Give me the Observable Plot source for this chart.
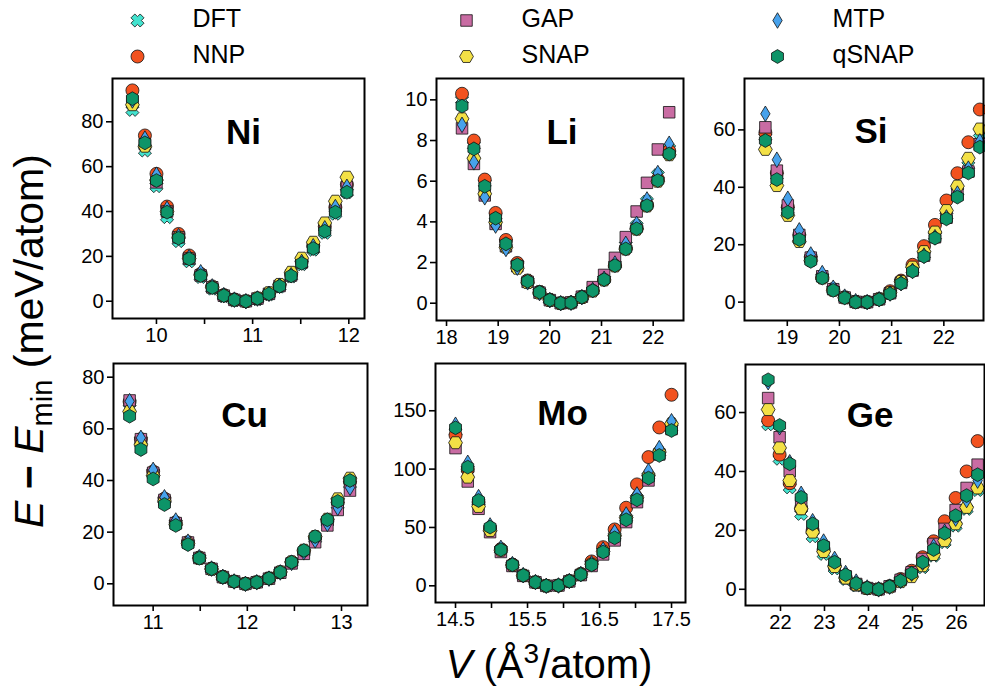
<!DOCTYPE html>
<html><head><meta charset="utf-8">
<script src="https://cdn.jsdelivr.net/npm/d3@7"></script>
<script src="https://cdn.jsdelivr.net/npm/@observablehq/plot@0.6"></script>
<style>
html,body{margin:0;padding:0;background:#fff;}
#fig{position:relative;width:985px;height:689px;overflow:hidden;background:#fff;font-family:"Liberation Sans",Arial,Helvetica,sans-serif;}
#fig svg{position:absolute;overflow:visible;}
</style></head><body><div id="fig"></div>
<script>
// ---------------- data ----------------
const series = ["DFT", "NNP", "GAP", "SNAP", "MTP", "qSNAP"];
const colors = ["#43e3cf", "#f2521f", "#c96ca3", "#f3e046", "#47a2ec", "#0d9468"];

// Ni
const Ni_V = [9.75, 9.88, 10.00, 10.11, 10.23, 10.34, 10.46, 10.58, 10.70, 10.81, 10.93, 11.05, 11.17, 11.28, 11.40, 11.51, 11.63, 11.75, 11.86, 11.98];
const Ni_DFT = [85.3, 67.2, 51.3, 37.5, 26.8, 17.8, 10.8, 5.6, 2.2, 0.4, 0, 0.9, 3.1, 6.5, 11.0, 16.5, 23.0, 30.5, 39.0, 48.5];
const Ni_NNP = [94.0, 73.9, 56.8, 42.2, 30.0, 20.4, 12.2, 6.6, 2.8, 0.8, 0, 1.2, 3.4, 7.0, 11.8, 17.8, 24.8, 33.3, 41.9, 52.0];
const Ni_GAP = [89.0, 70.0, 53.0, 40.0, 28.5, 19.0, 11.5, 6.2, 2.5, 0.6, 0, 1.2, 3.3, 6.8, 11.5, 17.3, 24.2, 32.3, 41.0, 51.0];
const Ni_SNAP = [87.6, 69.1, 54.0, 40.0, 28.5, 19.0, 11.6, 6.2, 2.5, 0.6, 0, 1.4, 3.8, 7.5, 12.9, 19.2, 26.3, 34.9, 44.6, 55.3];
const Ni_MTP = [89.5, 72.5, 56.4, 41.2, 29.0, 19.6, 12.9, 6.6, 2.7, 0.7, 0, 1.2, 3.3, 6.9, 11.6, 17.5, 24.5, 32.5, 42.0, 51.0];
const Ni_qSNAP = [90.3, 70.6, 53.8, 39.7, 28.1, 18.9, 11.4, 6.1, 2.5, 0.6, 0, 1.3, 3.3, 6.7, 11.3, 16.9, 23.5, 31.2, 39.7, 48.6];

// Li
const Li_V = [18.30, 18.53, 18.74, 18.95, 19.15, 19.37, 19.57, 19.80, 20.00, 20.21, 20.41, 20.62, 20.83, 21.05, 21.26, 21.47, 21.68, 21.88, 22.09, 22.31];
const Li_DFT = [10.0, 7.75, 5.9, 4.3, 3.0, 1.92, 1.1, 0.55, 0.16, 0, 0.02, 0.3, 0.62, 1.18, 1.9, 2.85, 3.8, 5.0, 6.3, 7.6];
const Li_NNP = [10.3, 8.0, 6.08, 4.44, 3.11, 1.98, 1.12, 0.56, 0.17, 0, 0.03, 0.3, 0.63, 1.17, 1.87, 2.72, 3.72, 4.85, 6.1, 7.5];
const Li_GAP = [8.6, 6.85, 5.3, 3.9, 2.8, 1.82, 1.05, 0.52, 0.15, 0, 0.04, 0.32, 0.79, 1.39, 2.23, 3.25, 4.51, 5.92, 7.56, 9.39];
const Li_SNAP = [9.07, 7.13, 5.38, 3.98, 2.75, 1.72, 1.02, 0.5, 0.14, 0, 0.02, 0.28, 0.6, 1.14, 1.83, 2.66, 3.64, 4.78, 6.0, 7.3];
const Li_MTP = [8.77, 6.93, 5.21, 3.82, 2.67, 1.75, 1.03, 0.5, 0.15, 0, 0.02, 0.3, 0.65, 1.2, 1.95, 2.92, 3.9, 5.1, 6.4, 7.84];
const Li_qSNAP = [9.69, 7.59, 5.75, 4.18, 2.92, 1.89, 1.08, 0.54, 0.16, 0, 0.02, 0.3, 0.62, 1.16, 1.85, 2.67, 3.66, 4.8, 6.03, 7.34];

// Si
const Si_V = [18.58, 18.80, 19.01, 19.23, 19.45, 19.67, 19.88, 20.10, 20.31, 20.53, 20.76, 20.97, 21.18, 21.40, 21.62, 21.83, 22.05, 22.26, 22.47, 22.69];
const Si_DFT = [57.5, 44.0, 32.0, 22.5, 15.0, 8.8, 4.4, 1.6, 0.1, 0, 1.0, 3.1, 6.9, 11.2, 16.5, 23.0, 30.0, 38.5, 47.6, 57.1];
const Si_NNP = [59.0, 45.0, 33.1, 23.4, 15.7, 8.8, 4.5, 1.7, 0.1, 0, 1.1, 3.8, 7.5, 13.0, 19.5, 26.9, 35.4, 44.9, 55.7, 67.1];
const Si_GAP = [60.9, 45.8, 33.7, 23.4, 15.5, 9.0, 4.5, 1.6, 0.1, 0, 1.0, 3.1, 6.7, 11.0, 16.2, 22.6, 29.4, 37.5, 45.5, 55.0];
const Si_SNAP = [53.2, 40.6, 30.2, 21.1, 14.5, 8.4, 4.1, 1.5, 0, 0, 1.0, 3.3, 7.2, 12.2, 17.6, 24.4, 31.9, 40.4, 50.1, 60.3];
const Si_MTP = [65.6, 49.6, 36.0, 25.0, 16.6, 10.1, 5.0, 1.9, 0.3, 0, 1.0, 3.0, 6.6, 10.9, 16.2, 22.6, 29.5, 37.8, 46.5, 56.0];
const Si_qSNAP = [56.3, 42.7, 31.3, 21.8, 14.2, 8.4, 4.1, 1.5, 0, 0, 0.9, 2.9, 6.5, 10.7, 15.9, 22.3, 29.0, 36.6, 45.0, 54.0];

// Cu
const Cu_V = [10.75, 10.87, 11.00, 11.12, 11.24, 11.37, 11.49, 11.62, 11.74, 11.86, 11.98, 12.10, 12.23, 12.35, 12.47, 12.60, 12.72, 12.85, 12.96, 13.09];
const Cu_DFT = [70.0, 55.5, 43.0, 32.5, 23.5, 15.8, 9.9, 5.7, 2.6, 0.9, 0, 0.6, 2.1, 4.4, 8.2, 12.2, 17.3, 23.8, 30.5, 38.5];
const Cu_NNP = [70.5, 56.0, 43.5, 33.0, 23.8, 16.1, 10.2, 5.9, 2.7, 0.9, 0, 0.6, 2.1, 4.5, 8.3, 12.5, 17.8, 24.3, 31.5, 39.5];
const Cu_GAP = [71.0, 56.0, 43.0, 32.5, 23.5, 16.0, 10.0, 5.8, 2.6, 0.9, 0, 0.6, 2.0, 4.3, 7.9, 11.6, 16.1, 22.6, 28.6, 36.1];
const Cu_SNAP = [66.7, 53.8, 41.9, 32.0, 23.0, 15.6, 9.9, 5.7, 2.6, 0.9, 0, 0.6, 2.1, 4.6, 8.5, 13.0, 18.3, 25.0, 32.9, 40.9];
const Cu_MTP = [70.7, 56.5, 44.1, 33.5, 24.5, 16.3, 10.3, 5.9, 2.7, 0.9, 0, 0.6, 2.0, 4.4, 8.1, 12.2, 16.8, 23.2, 29.4, 37.2];
const Cu_qSNAP = [64.9, 52.0, 40.6, 30.7, 22.6, 15.2, 9.9, 5.8, 2.6, 0.9, 0, 0.6, 2.1, 4.5, 8.4, 12.9, 18.3, 24.8, 31.9, 40.0];

// Mo
const Mo_V = [14.50, 14.67, 14.82, 14.98, 15.13, 15.29, 15.44, 15.61, 15.76, 15.93, 16.08, 16.24, 16.39, 16.55, 16.71, 16.87, 17.02, 17.18, 17.33, 17.50];
const Mo_DFT = [132, 100, 72, 49, 31, 18, 8.9, 3.1, 0, 0.3, 4.0, 9.7, 18.5, 29.5, 42.5, 58, 75, 94, 114, 135];
const Mo_NNP = [129.1, 99.7, 71.7, 49.4, 31.5, 18.2, 8.9, 3.1, 0, 0.3, 4.2, 10.3, 20.9, 33.1, 48.3, 66.9, 86.9, 110.3, 135.7, 163.7];
const Mo_GAP = [118, 89.4, 66, 46, 29, 17, 8.5, 3.0, 0, 0.3, 3.8, 9.2, 17.0, 26.9, 38.9, 54.6, 71.7, 90.3, 112.6, 134.3];
const Mo_SNAP = [122.6, 93.1, 68, 47.4, 30.5, 17.7, 8.8, 3.0, 0, 0.3, 4.0, 9.8, 18.5, 29.5, 43, 58.5, 75.5, 94.6, 114.6, 138.9];
const Mo_MTP = [138, 105.4, 76, 51.7, 32.5, 18.6, 9.2, 3.2, 0, 0.3, 4.1, 10.1, 19.2, 31, 46, 61.1, 78.3, 98.3, 118, 141];
const Mo_qSNAP = [135.4, 101.7, 73.1, 50.3, 30.9, 18, 8.9, 3.1, 0, 0.3, 4.0, 9.7, 18.0, 28.9, 41.1, 56.6, 73.7, 92.3, 111.7, 133.1];

// Ge
const Ge_V = [21.72, 21.98, 22.21, 22.47, 22.73, 22.98, 23.23, 23.48, 23.72, 23.97, 24.23, 24.48, 24.73, 24.98, 25.23, 25.48, 25.73, 25.98, 26.23, 26.48];
const Ge_DFT = [56.0, 44.3, 34.6, 25.6, 18.0, 12.0, 7.1, 3.5, 1.3, 0.3, 0, 0.9, 3.0, 4.8, 7.5, 11.4, 16.0, 21.6, 27.3, 33.7];
const Ge_NNP = [57.3, 45.7, 36.0, 27.5, 20.0, 13.5, 8.0, 4.0, 1.6, 0.4, 0, 1.1, 3.5, 6.3, 10.9, 16.3, 23.1, 31.0, 40.0, 50.3];
const Ge_GAP = [64.9, 51.6, 40.1, 29.5, 21.1, 14.3, 8.5, 4.4, 1.8, 0.4, 0, 1.0, 3.2, 5.8, 10.3, 15.4, 20.5, 26.9, 34.4, 42.3];
const Ge_SNAP = [61.0, 48.0, 36.9, 27.3, 19.4, 12.8, 7.7, 3.8, 1.5, 0.3, 0, 0.8, 2.6, 4.3, 8.0, 11.8, 16.5, 22.2, 27.8, 34.4];
const Ge_MTP = [70.3, 55.0, 43.1, 32.4, 23.1, 16.2, 10.3, 5.5, 2.6, 0.6, 0, 0.9, 2.9, 5.3, 9.0, 14.5, 19.5, 24.0, 30.3, 36.9];
const Ge_qSNAP = [71.1, 55.6, 42.6, 31.2, 22.2, 14.8, 9.2, 4.9, 2.0, 0.45, 0, 0.9, 2.9, 5.4, 9.2, 13.5, 19.0, 25.0, 31.8, 38.9];

// tick values and labels
const Ni_xticks = [10, 10.5, 11, 11.5, 12], Ni_xlabels = [10, 11, 12], Ni_yticks = [0, 20, 40, 60, 80];
const Li_xticks = [18, 19, 20, 21, 22], Li_xlabels = [18, 19, 20, 21, 22], Li_yticks = [0, 2, 4, 6, 8, 10];
const Si_xticks = [19, 20, 21, 22], Si_xlabels = [19, 20, 21, 22], Si_yticks = [0, 20, 40, 60];
const Cu_xticks = [11, 11.5, 12, 12.5, 13], Cu_xlabels = [11, 12, 13], Cu_yticks = [0, 20, 40, 60, 80];
const Mo_xticks = [14.5, 15, 15.5, 16, 16.5, 17, 17.5], Mo_xlabels = [14.5, 15.5, 16.5, 17.5], Mo_yticks = [0, 50, 100, 150];
const Ge_xticks = [22, 23, 24, 25, 26], Ge_xlabels = [22, 23, 24, 25, 26], Ge_yticks = [0, 20, 40, 60];

// ---------------- symbols ----------------
const symX = {draw(ctx, size) {
  const r = Math.sqrt(size / Math.PI), a = r * 1.0, t = r * 0.42;
  const pts = [[t,a],[t,t],[a,t],[a,-t],[t,-t],[t,-a],[-t,-a],[-t,-t],[-a,-t],[-a,t],[-t,t],[-t,a]];
  const c = Math.SQRT1_2;
  pts.forEach(([x,y], i) => { const X = (x - y) * c, Y = (x + y) * c; i ? ctx.lineTo(X, Y) : ctx.moveTo(X, Y); });
  ctx.closePath();
}};
const symThinDiamond = {draw(ctx, size) {
  const r = Math.sqrt(size / Math.PI), h = r * 1.2, w = r * 0.72;
  ctx.moveTo(0, -h); ctx.lineTo(w, 0); ctx.lineTo(0, h); ctx.lineTo(-w, 0); ctx.closePath();
}};
function hexSym(offset) { return {draw(ctx, size) {
  const R = Math.sqrt(size / Math.PI) * 1.06;
  for (let k = 0; k < 6; k++) { const a = offset + k * Math.PI / 3, x = R * Math.cos(a), y = R * Math.sin(a); k ? ctx.lineTo(x, y) : ctx.moveTo(x, y); }
  ctx.closePath();
}}; }
const symbols = [symX, "circle", "square", hexSym(0), symThinDiamond, hexSym(Math.PI / 2)];

// ---------------- panels ----------------
const panels = [
  {name: "Ni", V: Ni_V, vals: [Ni_DFT, Ni_NNP, Ni_GAP, Ni_SNAP, Ni_MTP, Ni_qSNAP], xt: Ni_xticks, xl: Ni_xlabels, yt: Ni_yticks,
   frame: [112, 364, 78, 318], xd: [9.543, 12.163], yd: [-7.7, 99.3], tdx: 5, tdy: 54},
  {name: "Li", V: Li_V, vals: [Li_DFT, Li_NNP, Li_GAP, Li_SNAP, Li_MTP, Li_qSNAP], xt: Li_xticks, xl: Li_xlabels, yt: Li_yticks,
   frame: [436, 683, 78, 320], xd: [17.806, 22.587], yd: [-0.85, 11.05], tdx: 2, tdy: 54},
  {name: "Si", V: Si_V, vals: [Si_DFT, Si_NNP, Si_GAP, Si_SNAP, Si_MTP, Si_qSNAP], xt: Si_xticks, xl: Si_xlabels, yt: Si_yticks,
   frame: [744, 983, 78, 320], xd: [18.18, 22.76], yd: [-6.4, 77.9], tdx: 7, tdy: 53},
  {name: "Cu", V: Cu_V, vals: [Cu_DFT, Cu_NNP, Cu_GAP, Cu_SNAP, Cu_MTP, Cu_qSNAP], xt: Cu_xticks, xl: Cu_xlabels, yt: Cu_yticks,
   frame: [113, 367, 363, 605], xd: [10.579, 13.276], yd: [-8.4, 85.3], tdx: 4, tdy: 52},
  {name: "Mo", V: Mo_V, vals: [Mo_DFT, Mo_NNP, Mo_GAP, Mo_SNAP, Mo_MTP, Mo_qSNAP], xt: Mo_xticks, xl: Mo_xlabels, yt: Mo_yticks,
   frame: [435, 685, 363, 602], xd: [14.222, 17.694], yd: [-14.3, 190.5], tdx: 2, tdy: 50},
  {name: "Ge", V: Ge_V, vals: [Ge_DFT, Ge_NNP, Ge_GAP, Ge_SNAP, Ge_MTP, Ge_qSNAP], xt: Ge_xticks, xl: Ge_xlabels, yt: Ge_yticks,
   frame: [745, 984, 364, 605], xd: [21.205, 26.636], yd: [-5.5, 76.3], tdx: 5, tdy: 51}
];

const fig = document.getElementById("fig");
const FONT = "'Liberation Sans', Arial, Helvetica, sans-serif";
const symbolScale = {domain: series, range: symbols};
const colorScale = {type: "ordinal", domain: series, range: colors};

for (const p of panels) {
  const [L, R, T, B] = p.frame;
  const ml = 52, mr = 2, mt = 4, mb = 40;
  const rows = [];
  series.forEach((s, k) => p.vals[k].forEach((e, i) => rows.push({V: p.V[i], E: e, s})));
  const svg = Plot.plot({
    width: R - L + ml + mr, height: B - T + mt + mb,
    marginLeft: ml, marginRight: mr, marginTop: mt, marginBottom: mb,
    style: {fontSize: "20px", fontFamily: FONT, color: "#000", background: "transparent", overflow: "visible"},
    x: {domain: p.xd},
    y: {domain: p.yd},
    symbol: symbolScale,
    color: colorScale,
    marks: [
      Plot.axisX({ticks: p.xt, tickSize: 6, tickPadding: 3, strokeWidth: 1.6, label: null, fontSize: 20,
                  tickFormat: d => p.xl.includes(d) ? String(d) : ""}),
      Plot.axisY({ticks: p.yt, tickSize: 6, tickPadding: 3, strokeWidth: 1.6, label: null, fontSize: 20}),
      Plot.dot(rows, {x: "V", y: "E", symbol: "s", fill: "s", stroke: "#111", strokeWidth: 0.8, r: 6.5}),
      Plot.text([p.name], {frameAnchor: "top", dx: p.tdx, dy: p.tdy, lineAnchor: "middle", fontSize: 35, fontWeight: "bold", fill: "#000"}),
      Plot.frame({stroke: "#000", strokeWidth: 2})
    ]
  });
  svg.style.left = (L - ml) + "px";
  svg.style.top = (T - mt) + "px";
  fig.appendChild(svg);
}

// ---------------- legend ----------------
const legendItems = series.map((s, i) => ({s, col: Math.floor(i / 2), row: i % 2}));
const legend = Plot.plot({
  width: 985, height: 75, margin: 0,
  style: {fontSize: "25px", fontFamily: FONT, color: "#000", background: "transparent"},
  x: {type: "linear", domain: [0, 1, 2], range: [137, 466, 777], axis: null},
  y: {type: "linear", domain: [0, 1], range: [20, 56], axis: null},
  symbol: symbolScale, color: colorScale,
  marks: [
    Plot.dot(legendItems, {x: "col", y: "row", symbol: "s", fill: "s", stroke: "#111", strokeWidth: 0.8, r: 6.5}),
    Plot.text(legendItems, {x: "col", y: "row", text: "s", dx: 55, dy: -2, textAnchor: "start", fill: "#000", fontSize: 25})
  ]
});
legend.style.left = "0px"; legend.style.top = "0px";
fig.appendChild(legend);

// ---------------- axis titles ----------------
const over = d3.create("svg").attr("width", 985).attr("height", 689)
  .style("left", "0px").style("top", "0px").style("pointer-events", "none")
  .attr("font-family", FONT).attr("font-size", 40).attr("fill", "#000");
const xl = over.append("text").attr("x", 549).attr("y", 678).attr("text-anchor", "middle");
xl.append("tspan").attr("font-style", "italic").text("V");
xl.append("tspan").text(" (Å");
xl.append("tspan").attr("font-size", 28).attr("dy", -15).text("3");
xl.append("tspan").attr("dy", 15).text("/atom)");
const yl = over.append("text").attr("transform", "translate(43,341) rotate(-90)").attr("text-anchor", "middle").attr("font-size", 41);
yl.append("tspan").attr("font-style", "italic").text("E");
yl.append("tspan").text(" ");
yl.append("tspan").attr("font-weight", "bold").text("−");
yl.append("tspan").text(" ");
yl.append("tspan").attr("font-style", "italic").text("E");
yl.append("tspan").attr("font-size", 29).attr("dy", 9).text("min");
yl.append("tspan").attr("dy", -9).text(" (meV/atom)");
fig.appendChild(over.node());
</script></body></html>
